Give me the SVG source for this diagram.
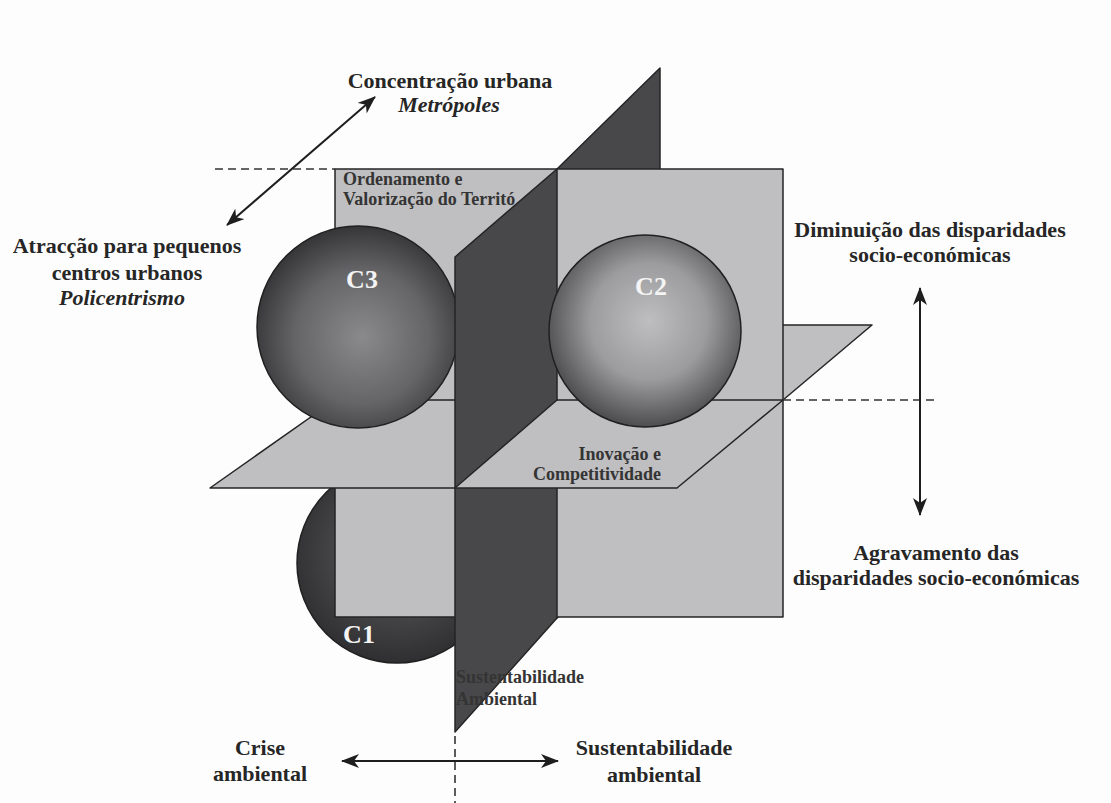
<svg xmlns="http://www.w3.org/2000/svg" width="1111" height="803" viewBox="0 0 1111 803">
<defs>
<style>
.lbl{font-family:"Liberation Serif","Times New Roman",serif;font-weight:bold;font-size:22px;fill:#262626;text-anchor:middle}
.it{font-style:italic}
.in{font-family:"Liberation Serif","Times New Roman",serif;font-weight:bold;font-size:18px;fill:#343434}
.cl{font-family:"Liberation Serif","Times New Roman",serif;font-weight:bold;font-size:26px;fill:#f4f4f4;text-anchor:middle}
.lt{fill:#bfbfc1;stroke:#252525;stroke-width:1.5;stroke-linejoin:round}
.dk{fill:#48484a;stroke:#252525;stroke-width:1.5;stroke-linejoin:round}
.sph{stroke:#202020;stroke-width:1.5}
.dash{stroke:#333;stroke-width:1.6;stroke-dasharray:8 5;fill:none}
.arr{stroke:#1e1e1e;stroke-width:2;fill:none;marker-start:url(#ah);marker-end:url(#ah)}
</style>
<radialGradient id="g3" cx="0.52" cy="0.55" r="0.55">
<stop offset="0" stop-color="#8a8a8c"/>
<stop offset="0.6" stop-color="#656567"/>
<stop offset="1" stop-color="#363638"/>
</radialGradient>
<radialGradient id="g2" cx="0.52" cy="0.45" r="0.55">
<stop offset="0" stop-color="#bebec0"/>
<stop offset="0.55" stop-color="#9c9c9e"/>
<stop offset="1" stop-color="#4d4d4f"/>
</radialGradient>
<radialGradient id="g1" cx="0.5" cy="0.45" r="0.55">
<stop offset="0" stop-color="#626264"/>
<stop offset="1" stop-color="#2f2f31"/>
</radialGradient>
<marker id="ah" viewBox="0 0 18 14" refX="17" refY="7" markerWidth="18" markerHeight="14" markerUnits="userSpaceOnUse" orient="auto-start-reverse">
<path d="M0,0 L18,7 L0,14 L5,7 z" fill="#1e1e1e"/>
</marker>
</defs>
<rect x="0" y="0" width="1111" height="803" fill="#fdfdfd"/>

<g id="sphere-c1">
<circle class="sph" cx="397" cy="563" r="100" fill="url(#g1)"/>
<text class="cl" x="359" y="643">C1</text>
</g>

<g id="plane-inovacao-back">
<polygon class="lt" points="335,400 783,400 872,325 447,325"/>
</g>

<g id="plane-ambiental-back">
<polygon class="dk" points="557,169 660,68 660,520 557,618"/>
</g>

<g id="plane-ordenamento">
<rect class="lt" x="335" y="169" width="448" height="448"/>
<text class="in" x="343" y="185">Ordenamento e</text>
<text class="in" x="343" y="205">Valorização do Territó</text>
</g>

<g id="plane-ambiental-lower">
<polygon class="dk" points="455,488 557,400 557,618 455,732"/>
<text class="in" x="456" y="683">Sustentabilidade</text>
<text class="in" x="456" y="705">Ambiental</text>
</g>

<g id="plane-inovacao-front">
<polygon class="lt" points="335,400 783,400 677,488 210,488"/>
<text class="in" x="661" y="460" text-anchor="end">Inovação e</text>
<text class="in" x="661" y="480" text-anchor="end">Competitividade</text>
</g>

<g id="sphere-c3">
<circle class="sph" cx="358" cy="327" r="101" fill="url(#g3)"/>
<text class="cl" x="362" y="288">C3</text>
</g>

<g id="plane-ambiental-upper">
<polygon class="dk" points="455,257 557,169 557,400 455,488"/>
</g>

<g id="sphere-c2">
<circle class="sph" cx="645" cy="331" r="96" fill="url(#g2)"/>
<text class="cl" x="651" y="295">C2</text>
</g>

<g id="connectors">
<line class="dash" x1="215" y1="169" x2="335" y2="169"/>
<line class="dash" x1="783" y1="400" x2="937" y2="400"/>
<line class="dash" x1="455" y1="736" x2="455" y2="803"/>
<line class="arr" x1="227" y1="225" x2="375" y2="97"/>
<line class="arr" x1="920" y1="288" x2="920" y2="515"/>
<line class="arr" x1="342" y1="761" x2="558" y2="761"/>
</g>

<g id="labels">
<text class="lbl" x="450" y="88">Concentração urbana</text>
<text class="lbl it" x="449" y="112">Metrópoles</text>
<text class="lbl" x="127" y="253">Atracção para pequenos</text>
<text class="lbl" x="127" y="280">centros urbanos</text>
<text class="lbl it" x="122" y="305">Policentrismo</text>
<text class="lbl" x="930" y="237">Diminuição das disparidades</text>
<text class="lbl" x="930" y="262">socio-económicas</text>
<text class="lbl" x="936" y="560">Agravamento das</text>
<text class="lbl" x="936" y="585">disparidades socio-económicas</text>
<text class="lbl" x="260" y="755">Crise</text>
<text class="lbl" x="260" y="781">ambiental</text>
<text class="lbl" x="654" y="755">Sustentabilidade</text>
<text class="lbl" x="654" y="782">ambiental</text>
</g>
</svg>
